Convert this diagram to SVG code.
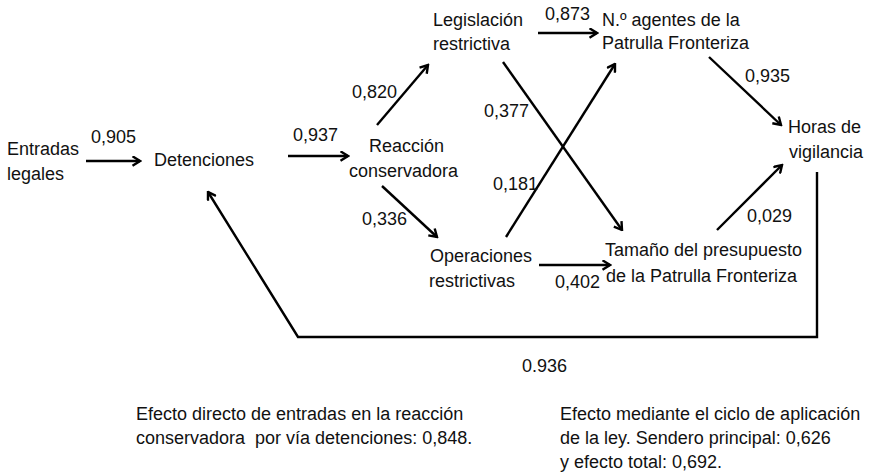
<svg xmlns="http://www.w3.org/2000/svg" width="871" height="474" viewBox="0 0 871 474">
<defs>
<style>
text{font-family:"Liberation Sans",Arial,Helvetica,sans-serif;font-size:18px;fill:#111}
.c{fill:none;stroke:#000;stroke-width:2.4;stroke-linecap:butt;stroke-linejoin:miter}
.a{marker-end:url(#ah)}
</style>
<marker id="ah" viewBox="0 0 11 11" refX="9.5" refY="5.5" markerWidth="11" markerHeight="11" markerUnits="userSpaceOnUse" orient="auto">
<path d="M2,0.8 L9.5,5.5 L2,10.2" fill="none" stroke="#000" stroke-width="2.4"/>
</marker>
</defs>
<rect width="871" height="474" fill="#fff"/>

<g id="connectors">
<line class="c a" x1="86" y1="161" x2="140" y2="161"/>
<line class="c a" x1="288" y1="156" x2="348" y2="156"/>
<line class="c a" x1="377" y1="125" x2="428" y2="65"/>
<line class="c a" x1="382" y1="186" x2="437" y2="237"/>
<line class="c a" x1="538" y1="33" x2="597" y2="33"/>
<line class="c a" x1="503" y1="62" x2="622" y2="230"/>
<line class="c a" x1="506" y1="237" x2="615" y2="64"/>
<line class="c a" x1="539" y1="265" x2="610" y2="265"/>
<line class="c a" x1="709" y1="57" x2="781" y2="125"/>
<line class="c a" x1="717" y1="230" x2="782" y2="165"/>
<polyline class="c a" points="817,172 817,337 298,337 208,192"/>
</g>

<g id="edge-labels">
<text x="91" y="143">0,905</text>
<text x="293" y="141">0,937</text>
<text x="352" y="98">0,820</text>
<text x="362" y="225">0,336</text>
<text x="545" y="20">0,873</text>
<text x="484" y="117">0,377</text>
<text x="493" y="190">0,181</text>
<text x="555" y="288">0,402</text>
<text x="745" y="82">0,935</text>
<text x="747" y="222">0,029</text>
<text x="522" y="372">0.936</text>
</g>

<g id="entradas"><text x="7" y="155">Entradas</text><text x="7" y="180">legales</text></g>
<g id="detenciones"><text x="154" y="166">Detenciones</text></g>
<g id="reaccion"><text x="369" y="152">Reacción</text><text x="349" y="177">conservadora</text></g>
<g id="legislacion"><text x="433" y="26">Legislación</text><text x="433" y="50">restrictiva</text></g>
<g id="operaciones"><text x="430" y="262">Operaciones</text><text x="429" y="287">restrictivas</text></g>
<g id="agentes"><text x="602" y="26">N.º agentes de la</text><text x="602" y="49">Patrulla Fronteriza</text></g>
<g id="presupuesto"><text x="605" y="256">Tamaño del presupuesto</text><text x="606" y="282">de la Patrulla Fronteriza</text></g>
<g id="horas"><text x="788" y="133">Horas de</text><text x="789" y="158">vigilancia</text></g>

<g id="nota-izquierda">
<text x="136" y="420">Efecto directo de entradas en la reacción</text>
<text x="136" y="444" xml:space="preserve">conservadora  por vía detenciones: 0,848.</text>
</g>
<g id="nota-derecha">
<text x="560" y="420">Efecto mediante el ciclo de aplicación</text>
<text x="560" y="444">de la ley. Sendero principal: 0,626</text>
<text x="560" y="468">y efecto total: 0,692.</text>
</g>
</svg>
